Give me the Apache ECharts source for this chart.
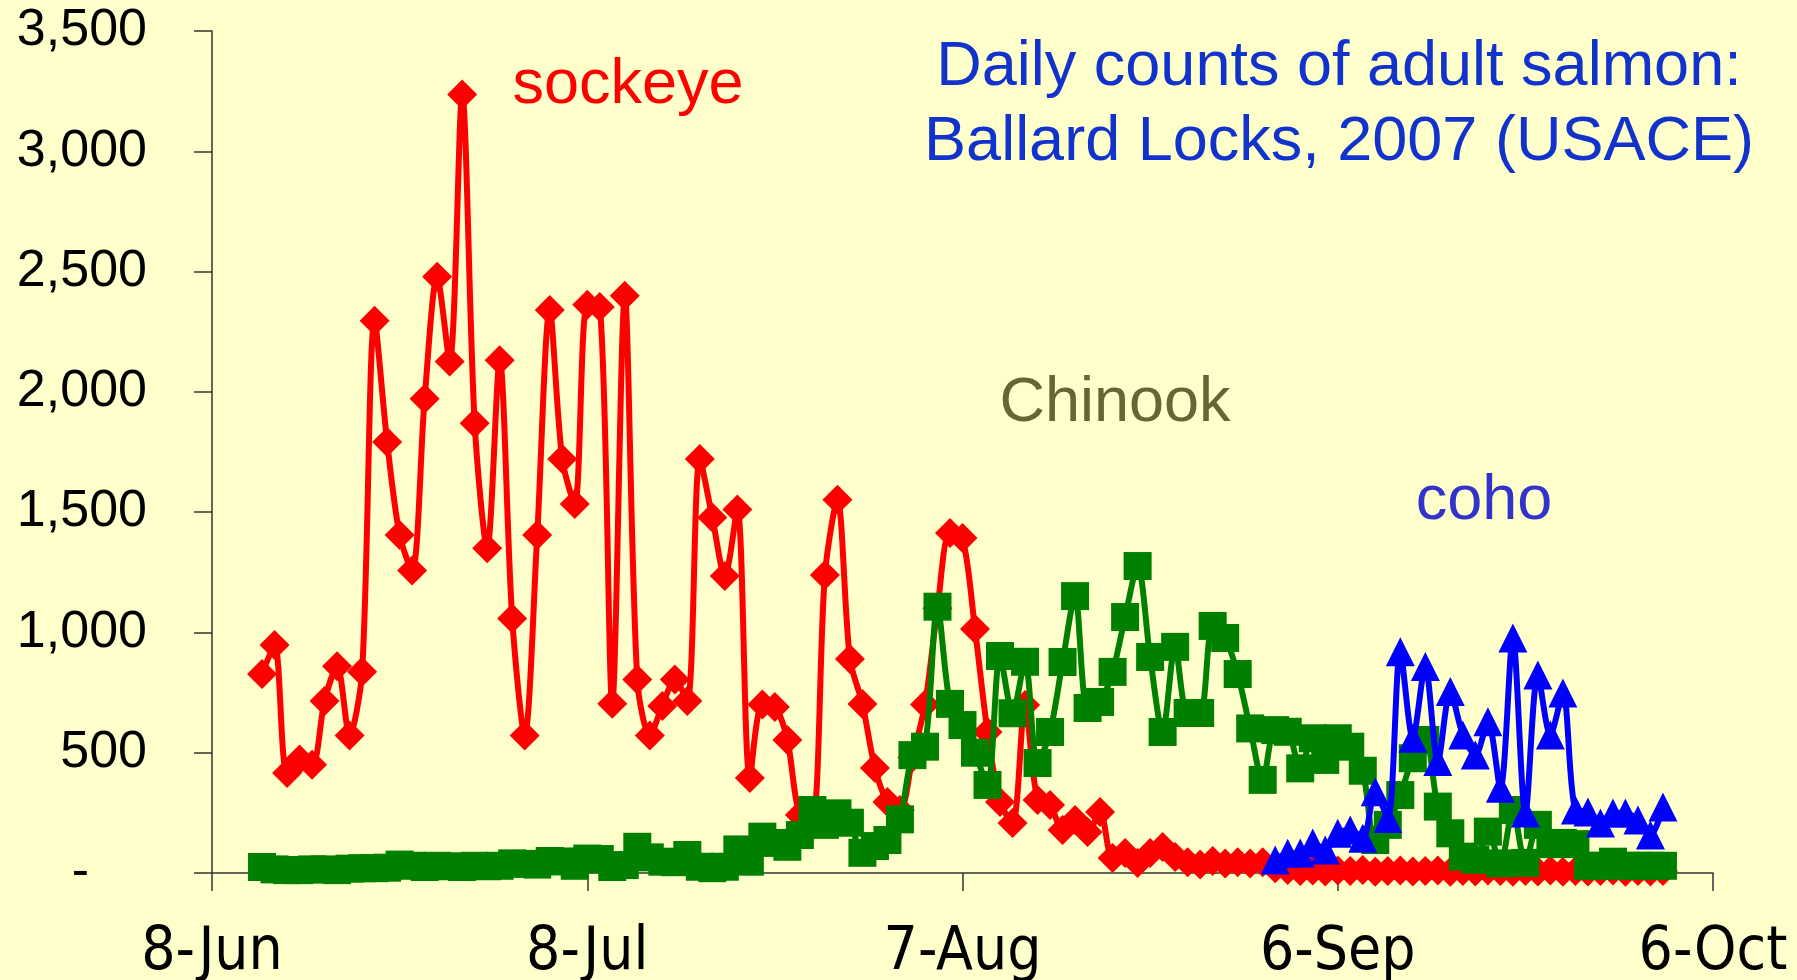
<!DOCTYPE html>
<html>
<head>
<meta charset="utf-8">
<title>Ballard Locks salmon counts 2007</title>
<script src="https://cdn.jsdelivr.net/npm/echarts@6/dist/echarts.min.js"></script>
<style>
  html, body { margin: 0; padding: 0; background: #FFFFCC; }
  #chart { width: 1797px; height: 980px; }
</style>
</head>
<body>
<div id="chart"></div>
<script>
// x axis = days after 8-Jun (2007)
var xTickLabels = ['8-Jun', '8-Jul', '7-Aug', '6-Sep', '6-Oct'];
var yTicks = [0, 500, 1000, 1500, 2000, 2500, 3000, 3500];

// daily counts, sockeye + chinook from 12-Jun (day 4) to 2-Oct (day 116)
var sockeyeStart = 4;
var sockeye = [
  827, 948, 416, 472, 450, 715, 859, 572, 837, 2296,
  1792, 1405, 1257, 1971, 2478, 2126, 3236, 1869, 1350, 2131,
  1058, 572, 1405, 2340, 1721, 1534, 2362, 2353, 704, 2400,
  804, 572, 694, 804, 715, 1721, 1478, 1235, 1511, 395,
  700, 690, 553, 241, 230, 1239, 1551, 890, 703, 436,
  295, 262, 480, 700, 1100, 1413, 1393, 1014, 586, 295,
  208, 698, 303, 283, 179, 220, 170, 254, 62, 83,
  42, 83, 108, 67, 45, 35, 50, 40, 45, 40,
  45, 20, 12, 8, 10, 6, 10, 8, 12, 5,
  8, 10, 6, 8, 10, 5, 8, 6, 10, 8,
  5, 8, 6, 10, 5, 8, 6, 8, 10, 5,
  8, 6, 8
];

var chinookStart = 4;
var chinook = [
  25, 15, 12, 12, 15, 15, 12, 18, 20, 20,
  22, 35, 30, 25, 30, 28, 25, 30, 28, 30,
  40, 38, 35, 50, 48, 30, 60, 58, 25, 33,
  109, 65, 47, 45, 75, 26, 20, 26, 98, 47,
  151, 125, 109, 158, 262, 200, 248, 209, 84, 112,
  137, 223, 490, 525, 1107, 703, 615, 500, 366, 902,
  664, 878, 457, 586, 877, 1151, 686, 711, 836, 1064,
  1276, 898, 586, 940, 665, 665, 1027, 977, 827, 601,
  387, 594, 587, 435, 560, 470, 560, 525, 425, 137,
  200, 324, 477, 553, 276, 165, 68, 55, 172, 40,
  262, 42, 200, 120, 125, 120, 30, 30, 47, 30,
  30, 30, 30
];

// coho from 1-Sep (day 85)
var cohoStart = 85;
var coho = [
  54, 82, 83, 125, 96, 165, 179, 144, 338, 227,
  920, 560, 858, 463, 754, 574, 490, 629, 352, 977,
  249, 823, 574, 748, 262, 254, 208, 249, 249, 220,
  158, 274
];

function toPairs(start, vals) {
  return vals.map(function (v, i) { return [start + i, v]; });
}

var chart = echarts.init(document.getElementById('chart'));

var labelFont = "'Liberation Sans', Arial, sans-serif";

var option = {
  backgroundColor: '#FFFFCC',
  animation: false,
  grid: { left: 212, right: 84, top: 31, bottom: 107, outerBoundsMode: 'none' },
  xAxis: {
    type: 'value',
    min: 0,
    max: 120,
    interval: 30,
    axisLine: { lineStyle: { color: '#333', width: 1.5 } },
    axisTick: { length: 18, lineStyle: { color: '#333', width: 1.5 } },
    splitLine: { show: false },
    axisLabel: {
      margin: 50,
      color: '#000',
      fontSize: 60,
      fontFamily: "'Liberation Sans Narrow', 'DejaVu Sans Condensed', sans-serif",
      formatter: function (v) { return xTickLabels[Math.round(v / 30)]; }
    }
  },
  yAxis: {
    type: 'value',
    min: yTicks[0],
    max: yTicks[yTicks.length - 1],
    interval: 500,
    axisLine: { show: true, lineStyle: { color: '#333', width: 1.5 } },
    axisTick: { show: true, length: 18, lineStyle: { color: '#333', width: 1.5 } },
    splitLine: { show: false },
    axisLabel: {
      margin: 65,
      color: '#000',
      fontSize: 52,
      fontFamily: labelFont,
      formatter: function (v) {
        if (v === 0) return '{z|-}';
        return v.toLocaleString('en-US');
      },
      rich: {
        z: { fontSize: 52, fontFamily: labelFont, color: '#000', padding: [0, 58, 0, 0] }
      }
    }
  },
  series: [
    {
      name: 'sockeye',
      type: 'line',
      smooth: 0.3,
      data: toPairs(sockeyeStart, sockeye),
      symbol: 'diamond',
      symbolSize: 30,
      lineStyle: { color: '#FF0000', width: 6 },
      itemStyle: { color: '#FF0000' },
      z: 2
    },
    {
      name: 'Chinook',
      type: 'line',
      smooth: 0.3,
      data: toPairs(chinookStart, chinook),
      symbol: 'rect',
      symbolSize: 28,
      lineStyle: { color: '#008000', width: 6 },
      itemStyle: { color: '#008000' },
      z: 3
    },
    {
      name: 'coho',
      type: 'line',
      smooth: 0.3,
      data: toPairs(cohoStart, coho),
      symbol: 'triangle',
      symbolSize: 29,
      lineStyle: { color: '#0000FF', width: 6 },
      itemStyle: { color: '#0000FF' },
      z: 4
    }
  ],
  graphic: [
    {
      type: 'text', x: 1339, y: 68,
      style: { text: 'Daily counts of adult salmon:', fill: '#1133CC', font: '63px ' + labelFont, textAlign: 'center', textVerticalAlign: 'middle' }
    },
    {
      type: 'text', x: 1339, y: 143,
      style: { text: 'Ballard Locks, 2007 (USACE)', fill: '#1133CC', font: '63px ' + labelFont, textAlign: 'center', textVerticalAlign: 'middle' }
    },
    {
      type: 'text', x: 628, y: 86,
      style: { text: 'sockeye', fill: '#FF0000', font: '63px ' + labelFont, textAlign: 'center', textVerticalAlign: 'middle' }
    },
    {
      type: 'text', x: 1115, y: 404,
      style: { text: 'Chinook', fill: '#666633', font: '63px ' + labelFont, textAlign: 'center', textVerticalAlign: 'middle' }
    },
    {
      type: 'text', x: 1484, y: 502,
      style: { text: 'coho', fill: '#3333CC', font: '63px ' + labelFont, textAlign: 'center', textVerticalAlign: 'middle' }
    }
  ]
};

chart.setOption(option);
window.onresize = chart.resize;
</script>
</body>
</html>
